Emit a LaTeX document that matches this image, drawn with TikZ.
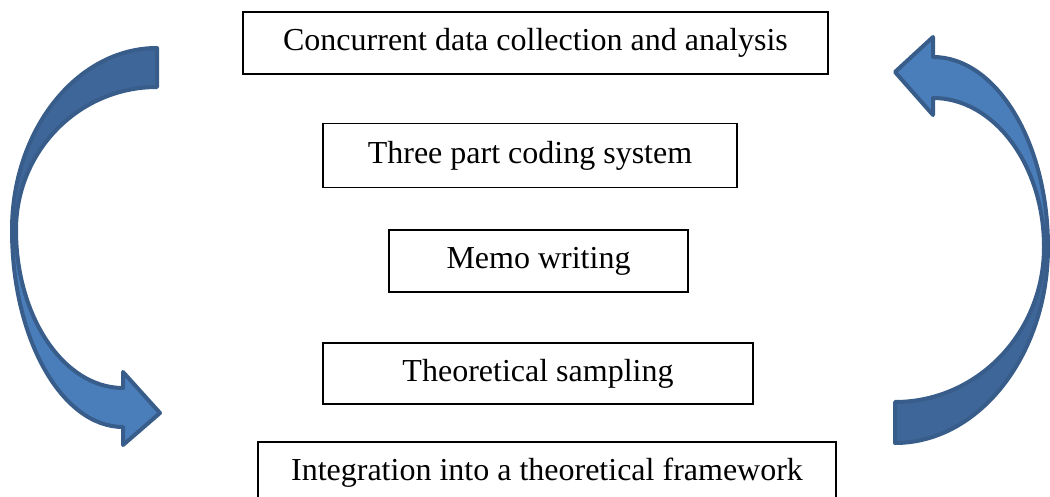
\documentclass[tikz,border=0pt]{standalone}
\usepackage{fontspec}
\setmainfont{Liberation Serif}
\usetikzlibrary{positioning}
\definecolor{arrowdark}{RGB}{62,102,153}
\definecolor{arrowlight}{RGB}{74,126,187}
\definecolor{arrowline}{RGB}{56,93,138}

\begin{document}
\begin{tikzpicture}[x=0.5pt,y=-0.5pt]
\tikzstyle{stage} = [draw, line width=0.75pt, inner sep=0pt, font=\fontsize{16}{19}\selectfont]
\tikzstyle{band} = [draw=arrowline, line width=2pt, line join=round]

\useasboundingbox (0,0) rectangle (1050,497);

\foreach \nm/\x/\y/\w/\h/\txt in {
collect/535.5/43/292.5pt/31pt/Concurrent data collection and analysis,
coding/530/155.5/207pt/32pt/Three part coding system,
memo/538.5/261/149.5pt/31pt/Memo writing,
sampling/538/373.5/215pt/30.5pt/Theoretical sampling,
integrate/547/473/289pt/31pt/Integration into a theoretical framework} {
\node[stage, minimum width=\w, minimum height=\h] (\nm) at (\x,\y) {\txt};
}

% left arrow
\draw[band, fill=arrowdark] (157,48) .. controls (77,48) and (12,130) .. (12,230)
-- (16,230) .. controls (16,151) and (79,87) .. (157,87) -- cycle;
\draw[band, fill=arrowlight] (12,230) .. controls (12,339) and (62,427) .. (123,427)
-- (123,445) -- (160,413) -- (123,372) -- (123,388)
.. controls (64,388) and (16,317) .. (16,230) -- cycle;

% right arrow
\draw[band, fill=arrowdark] (1048,247) .. controls (1048,355) and (979,443) .. (895,443)
-- (895,402) .. controls (977,402) and (1044,333) .. (1044,247) -- cycle;
\draw[band, fill=arrowlight] (933,57) -- (933,37) -- (895,72) -- (933,115) -- (933,98)
.. controls (994,98) and (1044,165) .. (1044,247)
-- (1048,247) .. controls (1048,142) and (996,57) .. (933,57) -- cycle;

\end{tikzpicture}
\end{document}
